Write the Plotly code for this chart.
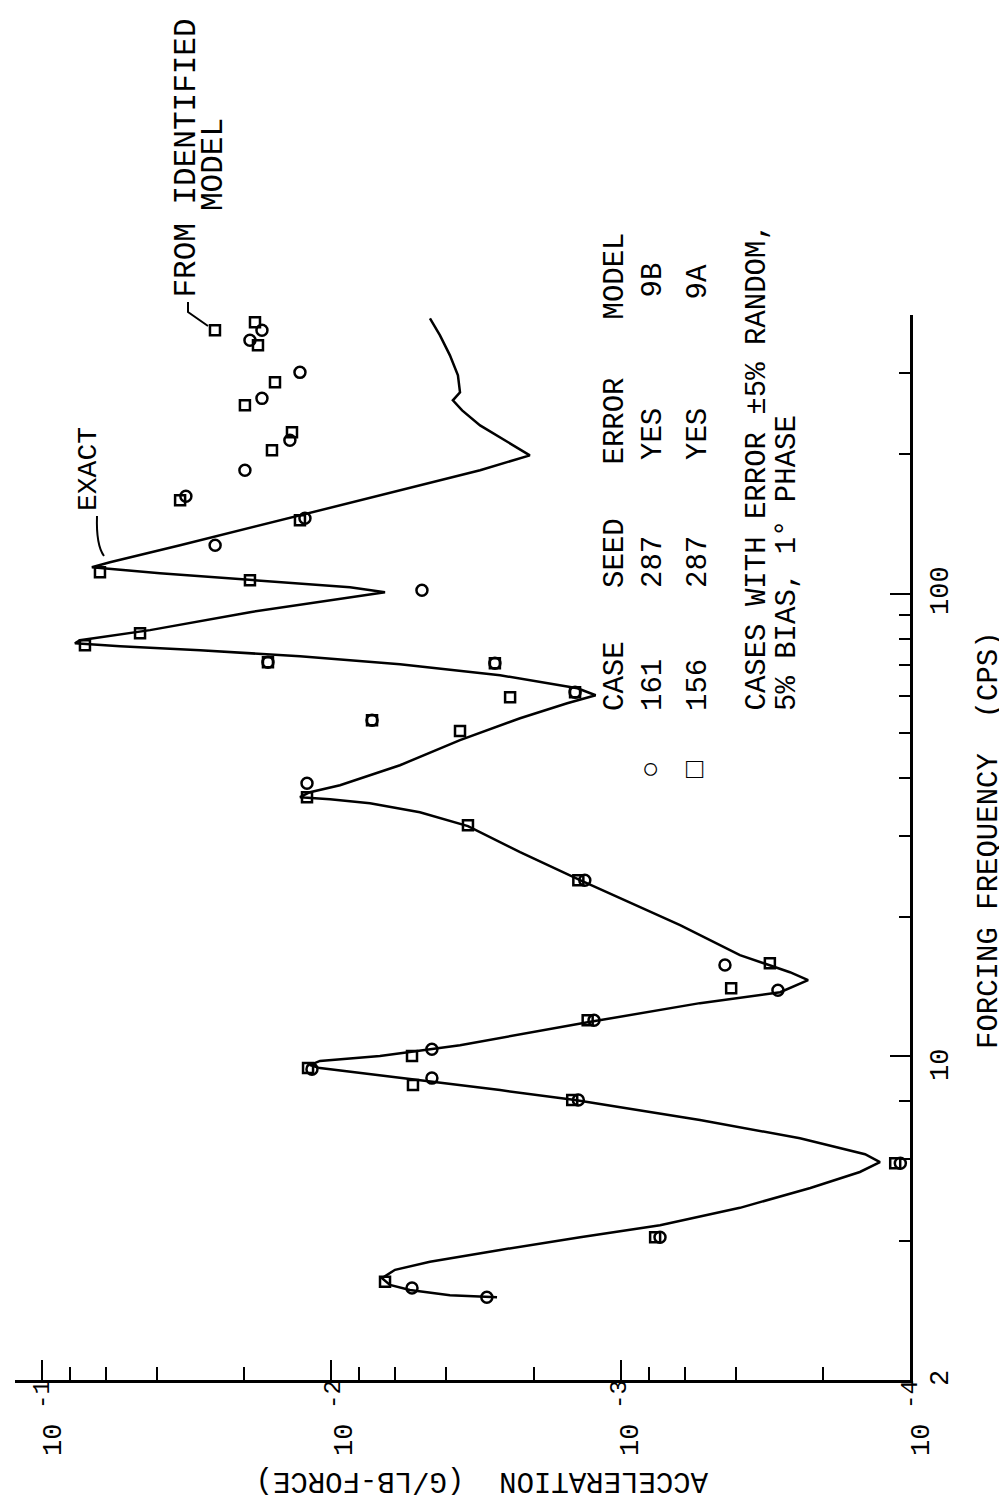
import plotly.graph_objects as go

# EXACT curve: forcing frequency (cps) and acceleration (g/lb-force)
curve_freq = [3.02, 3.05, 3.13, 3.21, 3.32, 3.46, 3.60, 3.82, 4.07, 4.32, 4.71, 5.20, 5.63, 5.91,
              6.15, 6.66, 7.29, 8.05, 8.46, 8.89, 9.21, 9.44, 9.58, 9.78, 10.02, 10.58, 11.87,
              13.04, 13.77, 14.62, 15.21, 16.56, 19.22, 21.99, 24.04, 27.63, 31.45, 33.71,
              35.26, 35.97, 36.33, 37.24, 38.56, 42.59, 48.24, 53.81, 57.97, 60.33, 62.46,
              66.63, 70.4, 73.2, 75.5, 76.98, 78.1, 79.3, 83.4, 91.2, 96.8, 100.7, 103.2, 106.9,
              110.7, 114.0, 116.9, 127.2, 140.5, 155.2, 171.4, 184.7, 199.0, 214.4, 231.0,
              248.9, 261.6, 272.2, 296.2, 327.3, 361.4, 393.4]
curve_acc = [0.002674, 0.00389, 0.00535, 0.00627, 0.00668, 0.00602, 0.00456, 0.00261, 0.00138,
             0.000731, 0.000387, 0.000221, 0.000149, 0.000127, 0.000143, 0.000240, 0.000532,
             0.001437, 0.00261, 0.00493, 0.00796, 0.01094, 0.01186, 0.01094, 0.00679, 0.00359,
             0.001286, 0.000532, 0.000281, 0.000225, 0.000260, 0.000387, 0.000623, 0.001005,
             0.001381, 0.002226, 0.00337, 0.00494, 0.00735, 0.0101, 0.01283, 0.01185, 0.00933,
             0.00579, 0.00359, 0.002226, 0.001530, 0.001220, 0.001410, 0.00261, 0.00579,
             0.01283, 0.0284, 0.0537, 0.0769, 0.0739, 0.0423, 0.0191, 0.0101, 0.00652, 0.00862,
             0.0191, 0.0391, 0.0672, 0.0582, 0.0333, 0.01764, 0.00933, 0.00494, 0.00306,
             0.00206, 0.00251, 0.00306, 0.00353, 0.0038, 0.00359, 0.00365, 0.00389, 0.00421,
             0.00456]

# Case 161 (circles)
c161_freq = [3.02, 3.16, 4.07, 5.88, 8.05, 8.98, 9.39, 10.37, 11.98, 13.91, 15.76, 24.04,
             38.94, 53.3, 61.2, 70.7, 71.1, 101.7, 127.2, 145.5, 162.3, 184.7, 214.4, 264.2,
             300.7, 352.7, 370.6]
c161_acc = [0.0029, 0.00526, 0.000731, 0.000108, 0.0014, 0.00449, 0.01166, 0.00449, 0.001236,
            0.000286, 0.000436, 0.00133, 0.01213, 0.00723, 0.001437, 0.00272, 0.01655,
            0.00486, 0.0252, 0.01233, 0.0318, 0.01988, 0.0139, 0.01736, 0.01283, 0.0191,
            0.01736]
# Case 156 (squares)
c156_freq = [3.26, 4.07, 5.88, 8.05, 8.68, 9.44, 10.02, 11.98, 14.05, 15.91, 24.04, 31.6,
             36.3, 50.5, 53.3, 59.7, 61.2, 70.7, 71.1, 77.4, 82.1, 106.9, 111.2, 144.1, 159.1,
             204.0, 223.1, 255.2, 286.2, 344.0, 370.6, 385.6]
c156_acc = [0.00652, 0.00076, 0.0001125, 0.00147, 0.00522, 0.01203, 0.00526, 0.0013, 0.000415,
            0.000305, 0.0014, 0.00337, 0.01213, 0.00359, 0.00723, 0.00241, 0.001437, 0.00272,
            0.01655, 0.071, 0.0458, 0.0191, 0.063, 0.01283, 0.0333, 0.01603, 0.01367, 0.01988,
            0.01565, 0.01792, 0.02523, 0.01835]

acc_ticks = [1e-1, 1e-2, 1e-3, 1e-4]
acc_base = ["10", "10", "10", "10"]
acc_exp = ["-1", "-2", "-3", "-4"]
acc_minor = [m * d for d in (1e-2, 1e-3, 1e-4) for m in (8, 6, 4, 2)]
freq_ticks = [2, 10, 100]
freq_tick_text = ["2", "10", "100"]
freq_minor = [4, 6, 8, 20, 30, 40, 50, 60, 70, 80, 90, 200, 300, 400]

FONT = "Liberation Mono, Courier New, monospace"
OFF = 8  # page body margin
W, H = 1007 - OFF, 1499 - OFF
# plot area in page pixels
PL, PR, PT, PB = 15, 910, 315, 1380
L, R, T, B = PL - OFF, PR - OFF, PT - OFF, PB - OFF


def px(x):
    return (x - PL) / (PR - PL)


def py(y):
    return (PB - y) / (PB - PT)


fig = go.Figure()
fig.add_trace(go.Scatter(x=curve_acc, y=curve_freq, mode="lines",
                         line=dict(color="black", width=2.5), showlegend=False))
fig.add_trace(go.Scatter(x=c161_acc, y=c161_freq, mode="markers",
                         marker=dict(symbol="circle-open", size=11, color="black",
                                     line=dict(width=2.5)), showlegend=False))
fig.add_trace(go.Scatter(x=c156_acc, y=c156_freq, mode="markers",
                         marker=dict(symbol="square-open", size=10, color="black",
                                     line=dict(width=2.5)), showlegend=False))

fig.update_xaxes(type="log", range=[-0.907, -4], showgrid=False, zeroline=False,
                 showline=True, linecolor="black", linewidth=2.5, mirror=False,
                 tickvals=acc_ticks, showticklabels=False, ticks="inside", ticklen=20,
                 tickwidth=2.4, tickcolor="black",
                 minor=dict(tickvals=acc_minor, ticks="inside", ticklen=13, tickwidth=2.2,
                            tickcolor="black"))
fig.update_yaxes(type="log", range=[0.30103, 2.60206], side="right", showgrid=False,
                 zeroline=False, showline=True, linecolor="black", linewidth=2.5,
                 tickvals=freq_ticks, showticklabels=False, ticks="inside", ticklen=20,
                 tickwidth=2.4, tickcolor="black",
                 minor=dict(tickvals=freq_minor, ticks="inside", ticklen=11, tickwidth=2.2,
                            tickcolor="black"))

ann = []


def text(x, y, s, xa="center", ya="middle", angle=-90, size=29, align="left"):
    ann.append(dict(x=px(x), y=py(y), xref="paper", yref="paper", text=s, showarrow=False,
                    textangle=angle, xanchor=xa, yanchor=ya, align=align,
                    font=dict(family=FONT, size=size, color="black")))


# acceleration tick labels (rotated, exponent raised = shifted left)
acc_px = [42, 333, 619, 910]
for xp, b, e in zip(acc_px, acc_base, acc_exp):
    text(xp + 12, 1440, b, size=27)
    text(xp, 1395, e, size=24)
# frequency tick labels
for yp, s in zip([1378, 1065, 590], freq_tick_text):
    text(941, yp, s, size=27)

text(989, 840, "FORCING FREQUENCY  (CPS)", size=29)
text(482, 1481, "ACCELERATION  (G/LB-FORCE)", angle=180, size=29)
text(615, 713, "CASE", ya="bottom")
text(615, 590, "SEED", ya="bottom")
text(615, 467, "ERROR", ya="bottom")
text(615, 322, "MODEL", ya="bottom")
text(653, 713, "161", ya="bottom")
text(653, 590, "287", ya="bottom")
text(653, 462, "YES", ya="bottom")
text(653, 300, "9B", ya="bottom")
text(698, 713, "156", ya="bottom")
text(698, 590, "287", ya="bottom")
text(698, 462, "YES", ya="bottom")
text(698, 302, "9A", ya="bottom")
text(757, 713, "CASES WITH ERROR ±5% RANDOM,", ya="bottom")
text(787, 713, "5% BIAS, 1° PHASE", ya="bottom")
text(88, 513, "EXACT", ya="bottom", size=28)
text(186, 300, "FROM IDENTIFIED", ya="bottom", size=31)
text(214, 165, "MODEL", size=31)
text(650, 770, "○", angle=0)
text(695, 770, "□", angle=0)

shapes = [
    dict(type="path", xref="paper", yref="paper", line=dict(color="black", width=2),
         path=f"M {px(97)},{py(516)} Q {px(96)},{py(545)} {px(104)},{py(556)}"),
    dict(type="path", xref="paper", yref="paper", line=dict(color="black", width=2),
         path=f"M {px(188)},{py(302)} L {px(188)},{py(312)} L {px(208)},{py(326)}"),
]

fig.update_layout(width=W, height=H, margin=dict(l=L, r=W - R, t=T, b=H - B),
                  paper_bgcolor="white", plot_bgcolor="white", annotations=ann,
                  shapes=shapes, showlegend=False)
fig.write_html("out.html")
